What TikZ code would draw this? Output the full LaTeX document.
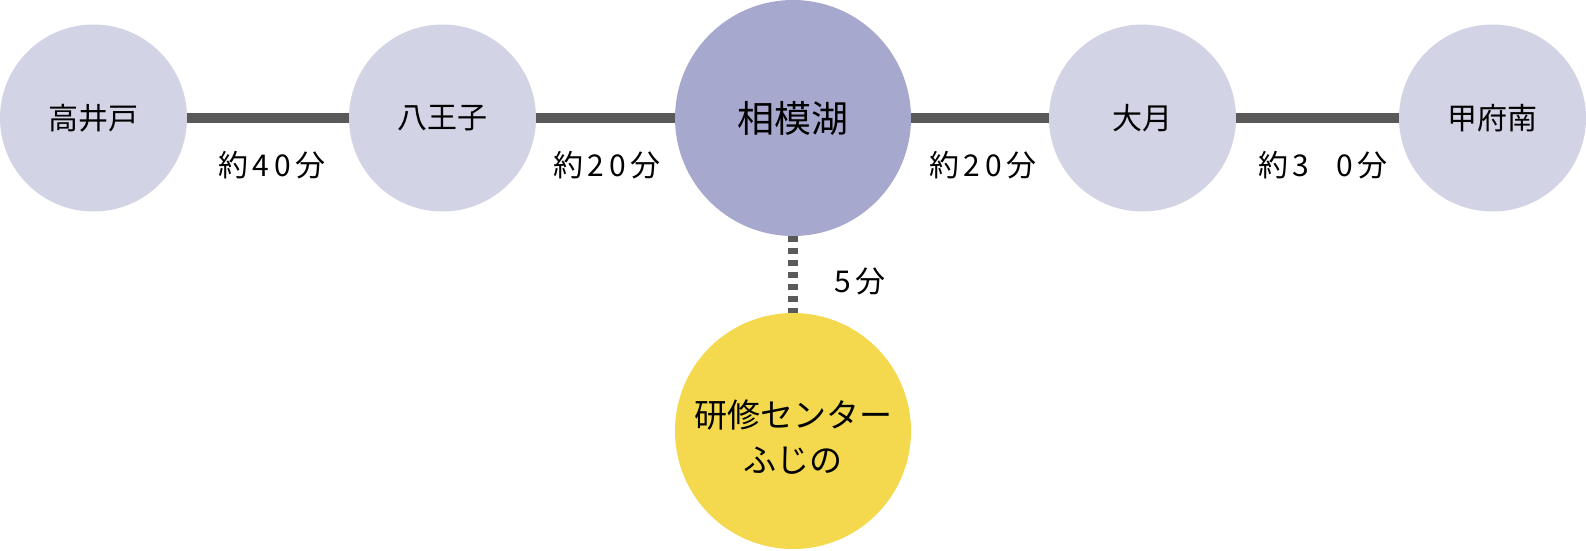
\documentclass[tikz,border=0pt]{standalone}
\usepackage{fontspec}
\setmainfont{Noto Sans CJK JP}
\definecolor{lightst}{HTML}{D3D3E6}
\definecolor{hubst}{HTML}{A7A8CD}
\definecolor{dest}{HTML}{F4D94E}
\definecolor{linegray}{HTML}{595959}
\begin{document}
\begin{tikzpicture}[x=1pt,y=-1pt,
  station/.style={circle,fill=lightst,minimum size=187pt,inner sep=0pt,font=\fontsize{30}{36}\selectfont},
  hub/.style={circle,fill=hubst,minimum size=236pt,inner sep=0pt,font=\fontsize{37}{42}\selectfont},
  destst/.style={circle,fill=dest,minimum size=236pt,inner sep=0pt},
  desttext/.style={align=center,inner sep=0pt,font=\fontsize{33}{45}\selectfont},
  rail/.style={draw=linegray,line width=10pt},
  walk/.style={draw=linegray,line width=10pt,dash pattern=on 5.5pt off 6.5pt},
  timelabel/.style={font=\fontsize{30}{34}\selectfont\addfontfeature{LetterSpace=16},inner sep=0pt}]
\useasboundingbox (0,0) rectangle (1586,550);
\node[station] (tak) at (93.5,118) {高井戸};
\node[station] (hac) at (442.5,118) {八王子};
\node[hub] (sag) at (793,118) {相模湖};
\node[station] (oot) at (1142.5,118) {大月};
\node[station] (kof) at (1492.5,118) {甲府南};
\node[destst] (ken) at (793,431) {};
\node[desttext] (kent) at (793,437) {研修センター\\ふじの};
\draw[rail] (tak) -- (hac);
\draw[rail] (hac) -- (sag);
\draw[rail] (sag) -- (oot);
\draw[rail] (oot) -- (kof);
\draw[walk] (sag.south) -- (ken.north);
\node[timelabel] (l1) at (272,165) {約40分};
\node[timelabel] (l2) at (607,165) {約20分};
\node[timelabel] (l3) at (983,165) {約20分};
\node[timelabel] (l4) at (1323,165) {約3\hspace{0.9em}0分};
\node[timelabel] (l5) at (860,281) {5分};
\end{tikzpicture}
\end{document}
